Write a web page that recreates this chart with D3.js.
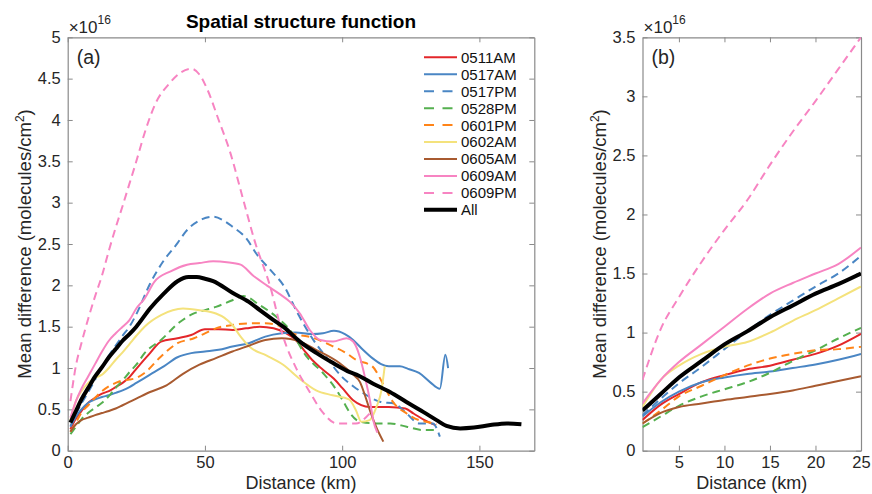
<!DOCTYPE html>
<html>
<head>
<meta charset="utf-8">
<script src="https://cdn.jsdelivr.net/npm/d3@7"></script>
<style>
body { margin: 0; background: #fff; }
svg text { font-family: "Liberation Sans", Arial, Helvetica, sans-serif; fill: #262626; }
</style>
</head>
<body>
<svg id="chart" width="872" height="494"></svg>
<script>
// legend order, colours and line style of each series
const seriesNames = ["0511AM", "0517AM", "0517PM", "0528PM", "0601PM", "0602AM", "0605AM", "0609AM", "0609PM", "All"];
const seriesColors = ["#e3262a", "#4a86c4", "#4a86c4", "#55b04f", "#ff8418", "#f4e27c", "#a85a30", "#f784c2", "#f784c2", "#000000"];
const seriesDashed = [false, false, true, true, true, false, false, false, true, false];

// [distance (km), mean difference (x1e16 molecules/cm2)]
const d0511AM = [[1,0.26],[3,0.39],[5,0.48],[7.5,0.58],[10,0.64],[12.5,0.69],[15,0.72],[17.5,0.77],[20,0.82],[22.5,0.89],[25,0.99],[30,1.18],[34,1.32],[40,1.36],[45,1.40],[50,1.47],[55,1.47],[60,1.46],[65,1.48],[70,1.50],[75,1.48],[79,1.43],[83,1.34],[86,1.22],[89,1.10],[93,0.98],[97,0.87],[100,0.76],[104,0.61],[110,0.53],[117,0.53],[123,0.51],[126,0.45],[130,0.37],[134,0.31]];
const d0517AM = [[1,0.29],[3,0.41],[5,0.50],[7.5,0.58],[10,0.62],[12.5,0.65],[15,0.67],[17.5,0.70],[20,0.73],[22.5,0.77],[25,0.82],[30,0.92],[35,1.02],[40,1.13],[45,1.18],[50,1.20],[55,1.22],[60,1.26],[66,1.30],[72,1.38],[78,1.42],[83,1.43],[89,1.41],[93,1.42],[97,1.45],[101,1.41],[104,1.34],[107,1.24],[111,1.12],[114,1.05],[117,1.02],[121,1.02],[124,0.99],[128,0.94],[132,0.83],[135.6,0.75],[137.6,1.16],[138.6,1.00]];
const d0517PM = [[1,0.30],[3,0.44],[5,0.57],[7.5,0.71],[10,0.86],[12.5,1.01],[15,1.15],[17.5,1.27],[20,1.39],[22.5,1.50],[25,1.65],[30,2.02],[35,2.30],[40,2.51],[43,2.65],[49,2.80],[53,2.83],[57,2.78],[60,2.71],[65,2.57],[69,2.37],[74,2.18],[79,1.98],[83.5,1.68],[89.5,1.34],[94,1.14],[100,0.89],[104,0.78],[108,0.69],[114,0.59],[119,0.57],[123.5,0.45],[128,0.33],[133,0.33],[135.6,0.17]];
const d0528PM = [[1,0.20],[3,0.29],[5,0.38],[7.5,0.46],[10,0.52],[12.5,0.58],[15,0.66],[17.5,0.76],[20,0.85],[22.5,0.95],[25,1.04],[28,1.18],[34,1.34],[41,1.56],[46,1.66],[50,1.70],[54,1.74],[60,1.82],[64,1.87],[70,1.76],[76,1.62],[81,1.46],[87,1.14],[93,0.94],[98,0.73],[100.5,0.59],[103,0.45],[106.5,0.35],[112.5,0.33],[117.5,0.33],[123.5,0.29],[129.5,0.25],[135,0.25]];
const d0601PM = [[1,0.23],[3,0.34],[5,0.46],[7.5,0.55],[10,0.64],[12.5,0.72],[15,0.78],[17.5,0.82],[20,0.85],[22.5,0.86],[25,0.88],[28,0.94],[34,1.14],[40,1.30],[46,1.36],[50,1.42],[54,1.48],[60,1.52],[66,1.54],[72,1.54],[78,1.50],[82,1.42],[89,1.37],[95.5,1.28],[101.5,1.18],[105,1.10],[111,1.02],[115,0.80],[118.5,0.59],[123.5,0.45],[128,0.37],[132,0.34],[134.4,0.32]];
const d0602AM = [[1,0.37],[3,0.60],[5,0.72],[7.5,0.82],[10,0.88],[12.5,0.92],[15,1.00],[17.5,1.10],[20,1.19],[22.5,1.29],[25,1.39],[28,1.50],[34,1.64],[42,1.72],[48,1.70],[54,1.66],[57,1.61],[60,1.52],[63,1.38],[66.5,1.25],[72.5,1.15],[78.5,1.04],[84.5,0.87],[90.5,0.73],[96.5,0.67],[102.5,0.62],[105,0.49],[107,0.35],[110,0.37],[112.5,0.53],[114.3,0.73],[115.5,1.02]];
const d0605AM = [[1,0.23],[3,0.32],[5,0.37],[7.5,0.40],[10,0.43],[12.5,0.455],[15,0.48],[17.5,0.51],[20,0.55],[22.5,0.59],[25,0.63],[30,0.71],[36,0.79],[42,0.93],[48,1.04],[54,1.12],[60,1.20],[66,1.27],[72,1.34],[78,1.36],[84.5,1.32],[90.5,1.22],[99,1.06],[104,0.92],[106.5,0.83],[108.5,0.65],[110.5,0.45],[112.5,0.28],[115,0.11]];
const d0609AM = [[1,0.40],[3,0.60],[5,0.75],[7.5,0.90],[10,1.05],[12.5,1.20],[15,1.33],[17.5,1.42],[20,1.50],[22.5,1.58],[25,1.72],[28,1.84],[31.5,2.04],[37.5,2.17],[43.5,2.25],[48,2.27],[53,2.29],[58,2.28],[63,2.25],[67.5,2.12],[72.5,2.00],[77,1.90],[81,1.80],[84.6,1.66],[88.2,1.46],[92,1.34],[96.7,1.32],[101.6,1.36],[104,1.32],[106.4,1.14],[108.3,0.89],[110.1,0.61],[111.3,0.37],[112.8,0.22]];
const d0609PM = [[1,0.60],[3,1.03],[5,1.30],[7.5,1.60],[10,1.87],[12.5,2.12],[15,2.42],[17.5,2.70],[20,2.96],[22.5,3.23],[25,3.50],[28,3.84],[32,4.20],[37,4.44],[41,4.57],[45,4.62],[48,4.55],[51,4.36],[55,4.00],[59,3.63],[64,3.03],[68,2.55],[74,1.96],[78.5,1.38],[83.5,0.98],[88,0.72],[93,0.46],[98,0.33],[105,0.33],[110,0.45]];
const dAll = [[1,0.34],[3,0.48],[5,0.62],[7.5,0.76],[10,0.90],[12.5,1.01],[15,1.13],[17.5,1.23],[20,1.33],[22.5,1.41],[25,1.50],[30,1.72],[35,1.90],[40,2.05],[44,2.10],[47,2.10],[50,2.08],[53,2.05],[60,1.91],[66,1.80],[70,1.70],[75,1.58],[78.5,1.50],[84.6,1.32],[90.7,1.18],[96.7,1.06],[102.8,0.95],[105.2,0.92],[111.3,0.81],[117.4,0.71],[123.4,0.59],[129.5,0.47],[134.4,0.37],[138,0.30],[143,0.27],[148,0.28],[154,0.31],[160,0.33],[165.3,0.32]];
const seriesData = [d0511AM, d0517AM, d0517PM, d0528PM, d0601PM, d0602AM, d0605AM, d0609AM, d0609PM, dAll];

// axis ranges and ticks
const xDomainA = [0, 170];
const yDomainA = [0, 5];
const xTicksA = [0, 50, 100, 150];
const yTicksA = [0, 0.5, 1, 1.5, 2, 2.5, 3, 3.5, 4, 4.5, 5];
const xDomainB = [1, 25];
const yDomainB = [0, 3.5];
const xTicksB = [5, 10, 15, 20, 25];
const yTicksB = [0, 0.5, 1, 1.5, 2, 2.5, 3, 3.5];

const svg = d3.select("#chart");
const axisColor = "#8a8a8a";
const tickFmt = d3.format("~g");

function drawPanel(id, box, xDomain, yDomain, xTicks, yTicks, maxX, tag) {
    const x = d3.scaleLinear().domain(xDomain).range([box.left, box.right]);
    const y = d3.scaleLinear().domain(yDomain).range([box.bottom, box.top]);
    const g = svg.append("g");

    svg.append("clipPath").attr("id", "clip" + id)
        .append("rect")
        .attr("x", box.left).attr("y", box.top)
        .attr("width", box.right - box.left).attr("height", box.bottom - box.top);

    // box with inward ticks on all four sides
    const axes = [
        [d3.axisBottom(x).tickValues(xTicks).tickFormat(tickFmt), box.bottom, 0],
        [d3.axisTop(x).tickValues(xTicks).tickFormat(""), box.top, 0],
        [d3.axisLeft(y).tickValues(yTicks).tickFormat(tickFmt), 0, box.left],
        [d3.axisRight(y).tickValues(yTicks).tickFormat(""), 0, box.right]
    ];
    axes.forEach(function(a, i) {
        const ax = g.append("g")
            .attr("transform", "translate(" + a[2] + "," + a[1] + ")")
            .call(a[0].tickSizeInner(-5).tickSizeOuter(0).tickPadding(i < 2 ? 6 : 7));
        ax.select(".domain").attr("stroke", axisColor).attr("stroke-width", 1.2);
        ax.selectAll(".tick line").attr("stroke", axisColor);
        ax.selectAll(".tick text").attr("font-size", "16.5px").attr("fill", "#262626")
            .style("font-family", "'Liberation Sans', Arial, sans-serif");
    });

    // series lines
    const line = d3.line()
        .x(d => x(d[0]))
        .y(d => y(d[1]))
        .curve(d3.curveMonotoneX);
    const lines = g.append("g").attr("clip-path", "url(#clip" + id + ")");
    seriesNames.forEach(function(name, i) {
        const pts = seriesData[i].filter(d => d[0] <= maxX);
        lines.append("path")
            .attr("d", line(pts))
            .attr("fill", "none")
            .attr("stroke", seriesColors[i])
            .attr("stroke-width", name === "All" ? 4 : 2)
            .attr("stroke-dasharray", seriesDashed[i] ? "8,5" : null)
            .attr("stroke-linejoin", "round");
    });

    // labels
    g.append("text")
        .attr("x", (box.left + box.right) / 2).attr("y", 489)
        .attr("text-anchor", "middle").attr("font-size", "18px")
        .text("Distance (km)");

    const yl = g.append("text")
        .attr("transform", "translate(" + (box.left - 37) + "," + ((box.top + box.bottom) / 2) + ") rotate(-90)")
        .attr("text-anchor", "middle").attr("font-size", "18.5px");
    yl.append("tspan").text("Mean difference (molecules/cm");
    yl.append("tspan").attr("font-size", "12px").attr("dy", "-7").text("2");
    yl.append("tspan").attr("dy", "7").text(")");

    const ex = g.append("text").attr("x", box.left + 1).attr("y", 33).attr("font-size", "17px");
    ex.append("tspan").text("×10");
    ex.append("tspan").attr("font-size", "12px").attr("dy", "-9").text("16");

    g.append("text")
        .attr("x", box.left + 9).attr("y", 64)
        .attr("font-size", "19.5px")
        .text(tag);
    return g;
}

drawPanel("a", {left: 67.7, right: 534.3, top: 37.3, bottom: 450.7}, xDomainA, yDomainA, xTicksA, yTicksA, 999, "(a)");
drawPanel("b", {left: 642.5, right: 861, top: 37.3, bottom: 450.7}, xDomainB, yDomainB, xTicksB, yTicksB, 25, "(b)");

// title
svg.append("text")
    .attr("x", 301).attr("y", 28)
    .attr("text-anchor", "middle")
    .attr("font-size", "19px").attr("font-weight", "bold")
    .style("fill", "#000")
    .text("Spatial structure function");

// legend
const legend = svg.append("g");
seriesNames.forEach(function(name, i) {
    const yy = 57.3 + i * 16.95;
    legend.append("line")
        .attr("x1", 424).attr("x2", 457)
        .attr("y1", yy).attr("y2", yy)
        .attr("stroke", seriesColors[i])
        .attr("stroke-width", name === "All" ? 4 : 2)
        .attr("stroke-dasharray", seriesDashed[i] ? "10,8.5" : null);
    legend.append("text")
        .attr("x", 461).attr("y", yy).attr("dy", "0.36em")
        .attr("font-size", "15px")
        .style("fill", "#111")
        .text(name);
});
</script>
</body>
</html>
